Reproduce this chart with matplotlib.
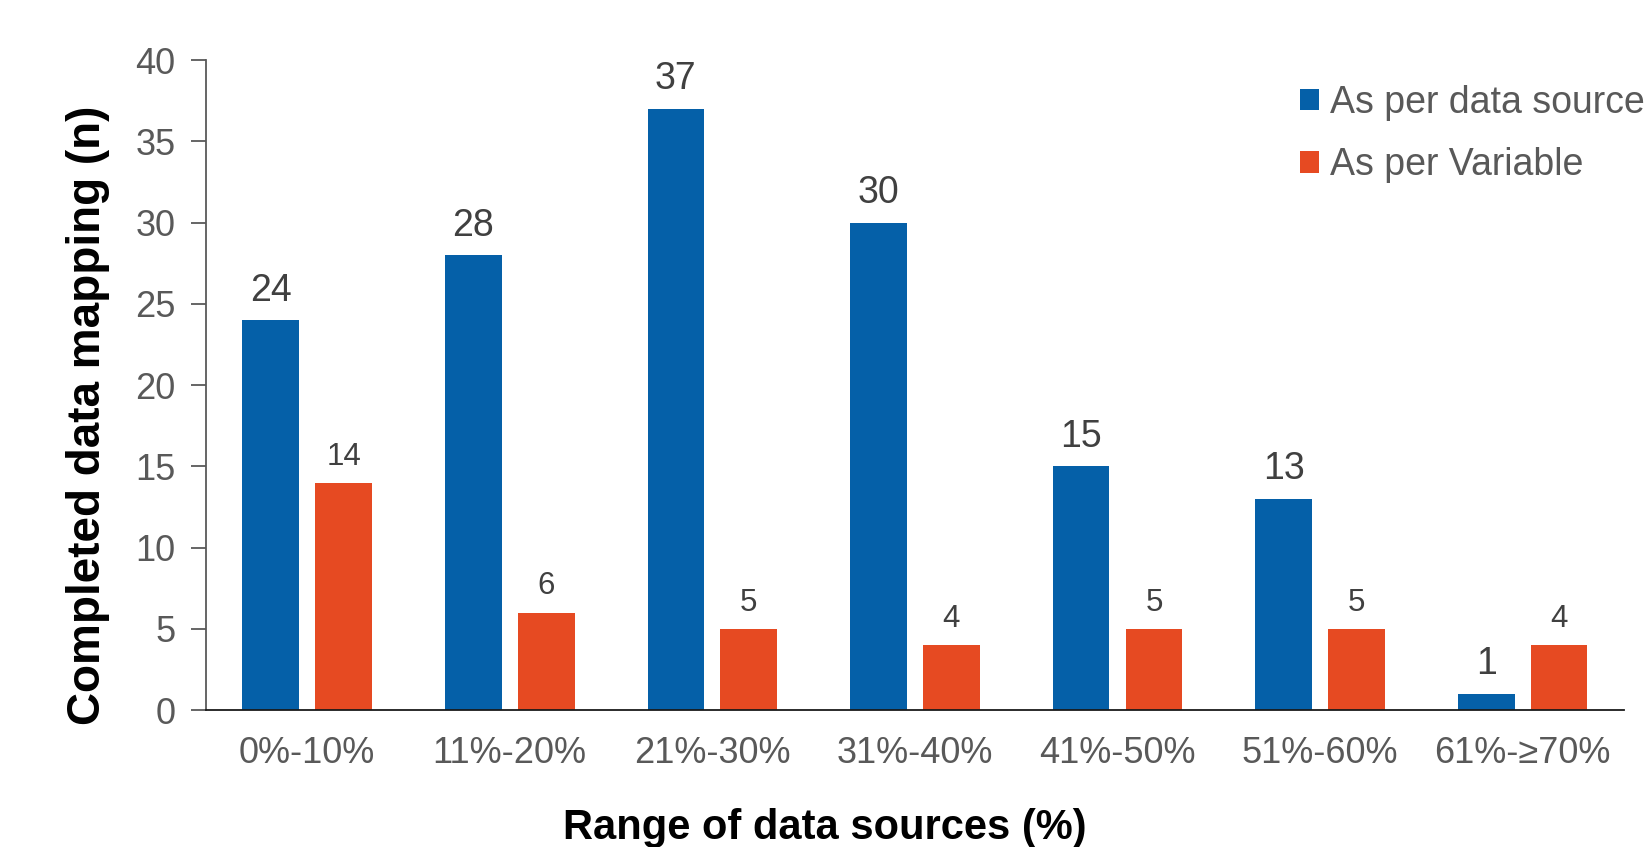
import numpy as np
import matplotlib.pyplot as plt

plt.rcParams['font.family'] = ['Liberation Sans', 'DejaVu Sans']

# datos
rangos = ['0%-10%', '11%-20%', '21%-30%', '31%-40%', '41%-50%', '51%-60%', '61%-≥70%']
por_fuente = [24, 28, 37, 30, 15, 13, 1]
por_variable = [14, 6, 5, 4, 5, 5, 4]
serie_nombres = ['As per data source', 'As per Variable']

azul = '#0560A8'
naranja = '#E64A22'
gris = '#595959'

fig = plt.figure(figsize=(16.47, 8.47), dpi=100)
ax = fig.add_axes([0.125, 0.1617, 0.861, 0.7673])

x = np.arange(len(rangos))
ancho = 0.28
ax.bar(x - 0.18, por_fuente, ancho, color=azul, label=serie_nombres[0])
ax.bar(x + 0.18, por_variable, ancho, color=naranja, label=serie_nombres[1])

# etiquetas de valores sobre las barras
for xi, v in zip(x - 0.18, por_fuente):
    ax.annotate(str(v), (xi, v), xytext=(0, 14), textcoords='offset points',
                ha='center', va='baseline', fontsize=27, color='#404040')
for xi, v in zip(x + 0.18, por_variable):
    ax.annotate(str(v), (xi, v), xytext=(0, 13), textcoords='offset points',
                ha='center', va='baseline', fontsize=22.5, color='#404040')

ax.set_xlim(-0.5, 6.5)
ax.set_ylim(0, 40)
ax.set_yticks(np.arange(0, 41, 5))
ax.set_xticks(x)
ax.set_xticklabels(rangos)

ax.spines['top'].set_visible(False)
ax.spines['right'].set_visible(False)
ax.spines['left'].set_color(gris)
ax.spines['left'].set_linewidth(1.3)
ax.spines['bottom'].set_color('#1a1a1a')
ax.spines['bottom'].set_linewidth(1.3)

ax.tick_params(axis='y', direction='out', length=11, width=1.3, color=gris,
               labelsize=26, labelcolor=gris, pad=11)
ax.tick_params(axis='x', length=0, labelsize=26, labelcolor=gris, pad=19)

fig.text(88 / 1647, 1 - 415 / 847, 'Completed data mapping (n)', rotation=90,
         ha='center', va='center', fontsize=33, fontweight='bold', color='black')
fig.text(0.501, 1 - 828 / 847, 'Range of data sources (%)', ha='center', va='center',
         fontsize=30, fontweight='bold', color='black')

ax.legend(loc='upper left', bbox_to_anchor=(1300 / 1647, 1 - 85 / 847),
          bbox_transform=fig.transFigure, frameon=False, fontsize=27,
          handlelength=0.5, handleheight=0.5, handletextpad=0.3,
          labelspacing=0.7, borderpad=0, borderaxespad=0, labelcolor=gris)

fig.savefig('out.png', dpi=100)
